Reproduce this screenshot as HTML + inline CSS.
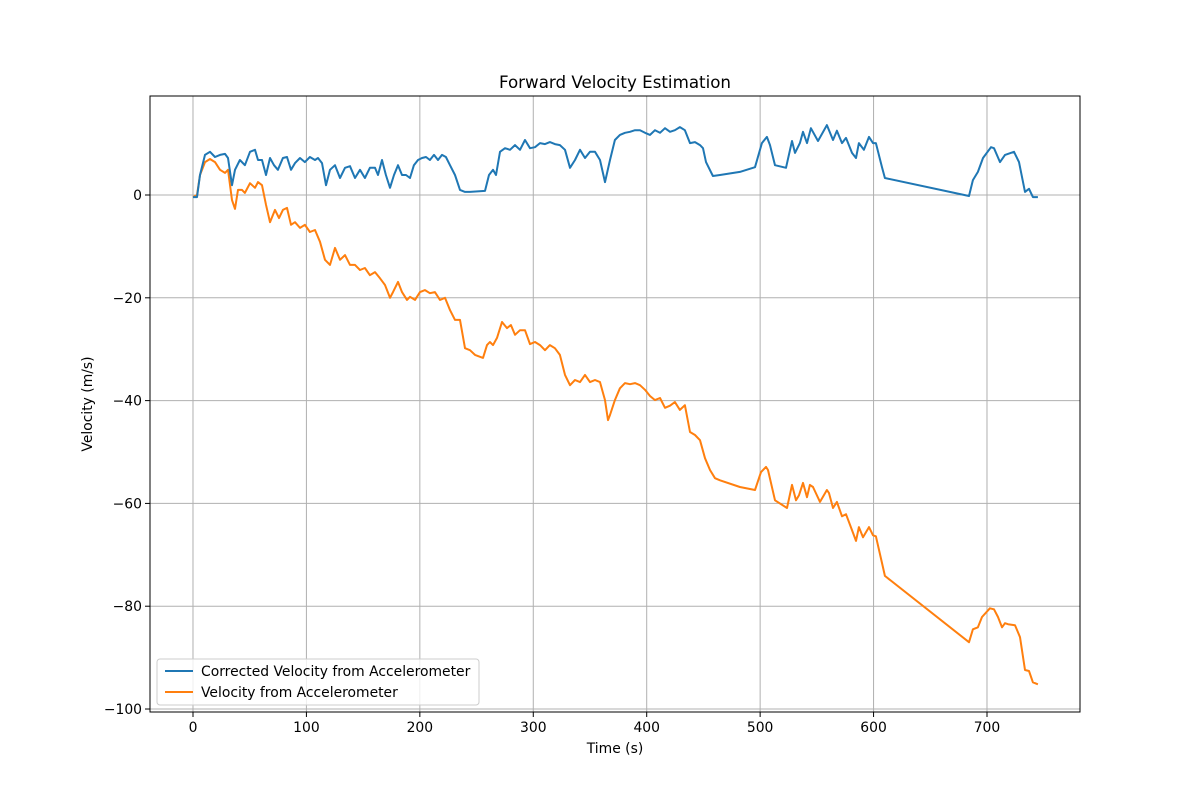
<!DOCTYPE html>
<html><head><meta charset="utf-8"><style>
body{margin:0;background:#fff}
svg{display:block;font-family:"DejaVu Sans","Liberation Sans",sans-serif}
</style></head><body>
<svg id="chart" width="1200" height="800" viewBox="0 0 1200 800">
<rect width="1200" height="800" fill="#fff"/>
<g id="grid"></g>
<g id="series"></g>
<rect x="150" y="96" width="930" height="616" fill="none" stroke="#000" stroke-width="1"/>
<g id="axes"></g>
<text x="615" y="88" text-anchor="middle" font-size="16.7">Forward Velocity Estimation</text>
<text x="615" y="753" text-anchor="middle" font-size="13.9">Time (s)</text>
<text x="92" y="404" text-anchor="middle" font-size="13.9" transform="rotate(-90 92 404)">Velocity (m/s)</text>
<g>
<rect x="157" y="659" width="322" height="46" rx="3" fill="#fff" fill-opacity="0.8" stroke="#ccc"/>
<line x1="165" y1="671" x2="193" y2="671" stroke="#1f77b4" stroke-width="2"/>
<text x="201" y="676" font-size="13.9">Corrected Velocity from Accelerometer</text>
<line x1="165" y1="692" x2="193" y2="692" stroke="#ff7f0e" stroke-width="2"/>
<text x="201" y="697" font-size="13.9">Velocity from Accelerometer</text>
</g>
</svg>
<script>
const xTicks=[0,100,200,300,400,500,600,700];
const yTicks=[0,-20,-40,-60,-80,-100];
const blueT=[0,3.5,6.2,10.6,15,19.4,23.8,28.2,30.9,34.4,37,41.4,45.8,50.3,54.7,57.3,60.8,64.4,67.9,71.4,74.9,79.3,82.9,86.4,89.9,94.3,98.7,103.1,107.6,110.2,113.7,117.3,120.8,125.2,129.6,134,138.4,142.8,147.2,151.6,156,160.5,163.1,166.6,170.1,173.7,177.2,180.7,184.3,187.8,191.3,194.8,198.4,201.9,205.4,208.9,212.5,216,219.5,223,226.6,231,235.4,239.8,244.2,257.4,261,264.5,267.1,270.7,275.1,279.5,283.9,288.3,292.7,297.1,301.5,305.9,310.3,314.7,319.1,323.5,328,332.4,336.8,341.2,345.6,350,354.4,358.8,363.2,367.6,372,376.4,380.9,385.3,389.7,394.1,398.5,402.9,407.3,411.7,416.1,420.5,424.9,429.3,433.7,438.2,442.6,447,449.6,452.3,458.4,464.6,482.2,495.5,501.6,506,508.7,513.1,522.8,528.1,530.7,535.1,537.8,541.3,544.8,551,558.9,564.2,567.7,572.2,575.7,581,584.5,587.1,591.5,596,599.5,602.1,607.4,610,684.1,687.6,692,696.5,703.5,706.2,711.5,715.9,723.8,728.2,733.5,737,740.5,744.9];
const blueV=[-0.4,-0.4,3.9,7.8,8.4,7.4,7.8,8,7.2,1.9,4.9,6.8,5.8,8.4,8.8,6.8,6.8,3.9,7.2,5.8,4.9,7.2,7.4,4.9,6.2,7.2,6.4,7.4,6.8,7.2,6.2,1.9,4.9,5.8,3.3,5.3,5.6,3.3,4.9,3.3,5.3,5.3,3.9,6.8,3.9,1.4,3.9,5.8,3.9,3.9,3.3,5.8,6.8,7.2,7.4,6.8,7.8,6.8,7.8,7.4,5.8,3.9,1,0.6,0.6,0.8,3.9,4.9,3.9,8.4,9.1,8.8,9.7,8.8,10.7,9.1,9.3,10.1,9.9,10.3,9.9,9.7,8.8,5.3,6.8,8.8,7.2,8.4,8.4,6.8,2.5,6.8,10.7,11.7,12.1,12.3,12.6,12.6,12.1,11.7,12.6,12.1,13,12.3,12.6,13.2,12.6,10.1,10.3,9.7,9.1,6.4,3.7,3.9,4.5,5.4,10.1,11.3,9.7,5.8,5.3,10.5,8.2,10.1,12.3,10.1,13,10.5,13.6,10.7,12.5,10.1,11.1,8.2,7.2,10.1,8.8,11.3,10.1,10.1,5.4,3.3,-0.2,2.9,4.5,7.2,9.3,9.1,6.4,7.8,8.4,6.4,0.6,1.2,-0.4,-0.4];
const rawT=[0,3.5,6.2,10.6,15,19.4,23.8,28.2,30.9,34.4,37,39.7,43.2,45.8,50.3,54.7,57.3,60.8,64.4,67.9,72.3,75.8,79.3,82.9,86.4,89.9,94.3,98.7,103.1,107.6,112,116.4,120.8,125.2,129.6,134,138.4,142.8,147.2,151.6,156,160.5,164.9,169.3,173.7,176.3,180.7,184.3,188.7,191.3,195.7,200.1,204.5,208.9,213.3,217.8,222.2,226.6,231,235.4,239.8,244.2,248.6,255.7,259.2,261.8,264.5,268,272.4,276.8,280.3,283.9,288.3,292.7,297.1,301.5,305.9,310.3,314.7,319.1,323.5,328,332.4,336.8,341.2,345.6,350,354.4,358.8,363.2,365.9,367.6,372,376.4,380.9,385.3,389.7,394.1,398.5,402.9,407.3,411.7,416.1,420.5,424.9,429.3,433.7,438.2,442.6,447,451.4,455.8,460.2,464.6,482.2,495.5,500.8,505.2,506.9,513.1,523.7,528.1,531.6,534.3,537.8,541.3,543.9,546.6,552.8,558.9,560.7,564.2,567.7,572.2,575.7,581,584.5,587.1,590.7,596,599.5,602.1,607.4,610,684.1,687.6,692,695.6,702.6,706.2,709.7,713.2,715.9,718.5,724.7,729.1,733.5,737,740.5,744.9];
const rawV=[-0.4,0,3.9,6.4,7,6.4,4.9,4.3,4.9,-1,-2.7,1,1,0.4,2.3,1.4,2.5,1.9,-1.9,-5.3,-2.9,-4.5,-2.9,-2.5,-5.8,-5.3,-6.4,-5.8,-7.2,-6.8,-9.1,-12.6,-13.6,-10.3,-12.6,-11.7,-13.6,-13.6,-14.6,-14.2,-15.6,-15,-16.2,-17.5,-20,-18.9,-16.9,-18.9,-20.4,-19.8,-20.4,-18.9,-18.5,-19.1,-18.9,-20.4,-20,-22.4,-24.3,-24.3,-29.8,-30.2,-31.1,-31.7,-29.2,-28.6,-29.2,-27.8,-24.7,-25.9,-25.3,-27.2,-26.3,-26.3,-29,-28.6,-29.2,-30.2,-29.2,-29.8,-31.1,-35,-37,-36,-36.4,-35,-36.4,-36,-36.4,-39.9,-43.8,-42.8,-39.9,-37.6,-36.6,-36.8,-36.6,-37,-37.9,-39.1,-39.9,-39.5,-41.4,-41,-40.3,-41.8,-40.9,-46.1,-46.7,-47.7,-51.2,-53.5,-55.1,-55.5,-56.8,-57.4,-53.9,-52.9,-53.5,-59.4,-60.9,-56.4,-59.4,-58.4,-56,-58.8,-56.4,-56.8,-59.7,-57.4,-58,-60.9,-59.7,-62.5,-62.1,-65.2,-67.3,-64.6,-66.6,-64.6,-66.2,-66.4,-71.6,-74.1,-87,-84.5,-84.1,-82.1,-80.4,-80.6,-82.1,-84.1,-83.3,-83.5,-83.7,-86,-92.4,-92.6,-94.8,-95.2];

const NS='http://www.w3.org/2000/svg';
const L=150,R=1080,T=96,B=712;
const xMin=-37.9,xMax=782,yMin=-100.58,yMax=19.26;
const sx=v=>L+(v-xMin)/(xMax-xMin)*(R-L);
const sy=v=>B-(v-yMin)/(yMax-yMin)*(B-T);
const grid=document.getElementById('grid'),axes=document.getElementById('axes'),series=document.getElementById('series');
function mk(tag,attrs,parent){const e=document.createElementNS(NS,tag);for(const k in attrs)e.setAttribute(k,attrs[k]);parent.appendChild(e);return e;}
xTicks.forEach(t=>{
  const x=sx(t);
  const g=mk('line',{x1:x,x2:x,y1:T,y2:B,stroke:'#b0b0b0','stroke-width':1},grid);
  
  
  const tk=mk('line',{x1:x,x2:x,y1:B,y2:B+5,stroke:'#000','stroke-width':1},axes);
  
  
  const tx=mk('text',{x:x,y:B+20,'text-anchor':'middle','font-size':13.9},axes);
  tx.textContent=t;
  
  
});
yTicks.forEach(t=>{
  const y=sy(t);
  const g=mk('line',{x1:L,x2:R,y1:y,y2:y,stroke:'#b0b0b0','stroke-width':1},grid);
  
  
  const tk=mk('line',{x1:L-5,x2:L,y1:y,y2:y,stroke:'#000','stroke-width':1},axes);
  
  
  const tx=mk('text',{x:L-8,y:y+5,'text-anchor':'end','font-size':13.9},axes);
  tx.textContent=(t<0?'\u2212'+(-t):t);
  
  
});
function line(ts,vs,color,name){
  const d=ts.map((t,i)=>(i?'L':'M')+sx(t).toFixed(1)+','+sy(vs[i]).toFixed(1)).join('');
  const p=mk('path',{d:d,fill:'none',stroke:color,'stroke-width':2,'stroke-linejoin':'round'},series);
  
  
}
line(rawT,rawV,'#ff7f0e','raw-velocity-line');
line(blueT,blueV,'#1f77b4','corrected-velocity-line');
</script>
</body></html>
